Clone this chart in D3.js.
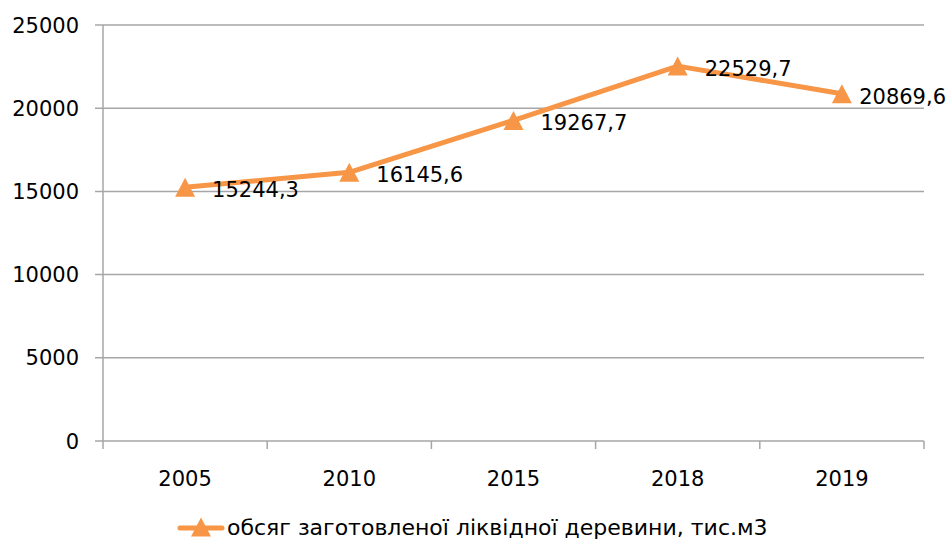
<!DOCTYPE html>
<html>
<head>
<meta charset="utf-8">
<script src="https://cdn.jsdelivr.net/npm/d3@7"></script>
<style>
  body { margin: 0; background: #fff; }
  text { font-family: "DejaVu Sans", sans-serif; fill: #000; }
</style>
</head>
<body>
<div id="chart"></div>
<script>
const years = ['2005', '2010', '2015', '2018', '2019'];
const volumes = [15244.3, 16145.6, 19267.7, 22529.7, 20869.6];
const valueLabels = ['15244,3', '16145,6', '19267,7', '22529,7', '20869,6'];
const yTicks = [0, 5000, 10000, 15000, 20000, 25000];
const seriesName = 'обсяг заготовленої ліквідної деревини, тис.м3';

const svgWidth = 949;
const svgHeight = 542;
const margin = { top: 25, right: 25, bottom: 101, left: 103 };
const width = svgWidth - margin.left - margin.right;
const height = svgHeight - margin.top - margin.bottom;
const lineColor = '#F79646';
const gridColor = '#A6A6A6';

const svg = d3.select('#chart')
    .append('svg')
    .attr('width', svgWidth)
    .attr('height', svgHeight);

const g = svg.append('g')
    .attr('transform', `translate(${margin.left},${margin.top})`);

var yScale = d3.scaleLinear()
    .domain([0, 25000])
    .range([height, 0]);

var xScale = d3.scaleBand()
    .domain(years)
    .range([0, width]);

// triangle marker, 20 wide, 19 tall, centred on its box
function triangle() {
    const p = d3.path();
    p.moveTo(0, -9.5);
    p.lineTo(10, 9.5);
    p.lineTo(-10, 9.5);
    p.closePath();
    return p.toString();
}

// horizontal gridlines with little ticks out to the left
g.selectAll('.grid')
    .data(yTicks)
    .enter().append('line')
    .attr('x1', -8)
    .attr('x2', width)
    .attr('y1', d => yScale(d))
    .attr('y2', d => yScale(d))
    .attr('stroke', gridColor)
    .attr('stroke-width', 1.5);

// y axis line
g.append('line')
    .attr('x1', 0).attr('x2', 0)
    .attr('y1', 0).attr('y2', height)
    .attr('stroke', gridColor)
    .attr('stroke-width', 1.5);

// x axis tick marks at band edges
const edges = years.map(d => xScale(d)).concat([width]);
g.selectAll('.xtick')
    .data(edges)
    .enter().append('line')
    .attr('x1', d => d).attr('x2', d => d)
    .attr('y1', height).attr('y2', height + 8)
    .attr('stroke', gridColor)
    .attr('stroke-width', 1.5);

// y labels
g.selectAll('.ylabel')
    .data(yTicks)
    .enter().append('text')
    .attr('x', -24)
    .attr('y', d => yScale(d))
    .attr('dy', '0.36em')
    .attr('text-anchor', 'end')
    .style('font-size', '21px')
    .text(d => d);

// x labels
g.selectAll('.xlabel')
    .data(years)
    .enter().append('text')
    .attr('x', d => xScale(d) + xScale.bandwidth() / 2)
    .attr('y', height + 37)
    .attr('dy', '0.36em')
    .attr('text-anchor', 'middle')
    .style('font-size', '21px')
    .text(d => d);

const line = d3.line()
    .x((d, i) => xScale(years[i]) + xScale.bandwidth() / 2)
    .y(d => yScale(d));

g.append('path')
    .datum(volumes)
    .attr('d', line)
    .attr('fill', 'none')
    .attr('stroke', lineColor)
    .attr('stroke-width', 5)
    .attr('stroke-linejoin', 'round');

g.selectAll('.marker')
    .data(volumes)
    .enter().append('path')
    .attr('d', triangle())
    .attr('transform', (d, i) => `translate(${xScale(years[i]) + xScale.bandwidth() / 2},${yScale(d)})`)
    .attr('fill', lineColor);

// value labels to the right of the points, pushed back in if they'd run off the edge
const maxRight = svgWidth - margin.left - 3;
g.selectAll('.vlabel')
    .data(volumes)
    .enter().append('text')
    .attr('y', d => yScale(d) + 2.5)
    .attr('dy', '0.36em')
    .style('font-size', '21px')
    .text((d, i) => valueLabels[i])
    .attr('x', function (d, i) {
        const x = xScale(years[i]) + xScale.bandwidth() / 2 + 27;
        const w = this.getComputedTextLength();
        return Math.min(x, maxRight - w);
    });

// legend
const legend = svg.append('g')
    .attr('transform', 'translate(180,528)');

legend.append('line')
    .attr('x1', 0).attr('x2', 42)
    .attr('y1', 0).attr('y2', 0)
    .attr('stroke', lineColor)
    .attr('stroke-width', 5)
    .attr('stroke-linecap', 'round');

legend.append('path')
    .attr('d', triangle())
    .attr('transform', 'translate(21,-1)')
    .attr('fill', lineColor);

legend.append('text')
    .attr('x', 47)
    .attr('y', 0)
    .attr('dy', '0.34em')
    .style('font-size', '22px')
    .text(seriesName);
</script>
</body>
</html>
